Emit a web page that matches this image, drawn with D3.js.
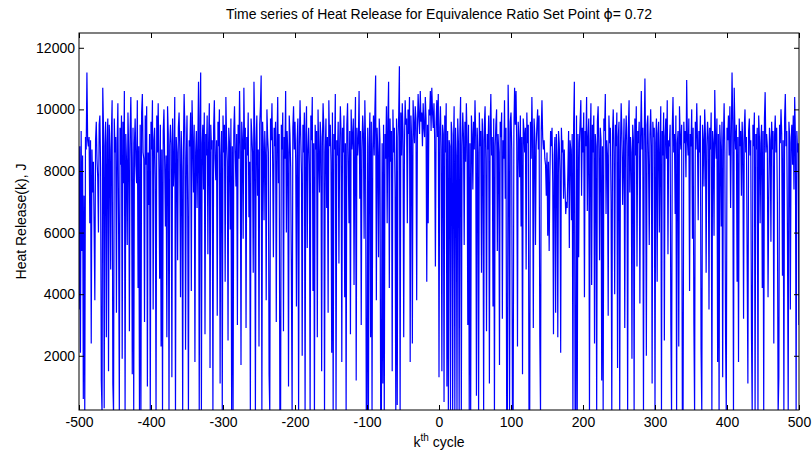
<!DOCTYPE html>
<html>
<head>
<meta charset="utf-8">
<script src="https://cdn.jsdelivr.net/npm/d3@7/dist/d3.min.js"></script>
<style>
  body { margin: 0; background: #fff; }
  text { font-family: "Liberation Sans", Arial, sans-serif; fill: #000; }
</style>
</head>
<body>
<div id="chart"></div>
<script>
// heat release per cycle, k = -500 .. 500 (20 values per row)
var heat = [
3500,8800,2100,9300,5400,8500,600,7200,100,9100,8700,11200,9000,8800,9100,6300,9000,2400,8700,7300,
8300,6100,3800,9000,9600,8400,7800,6000,9500,9800,8100,1200,100,10700,9400,300,8800,9600,2600,8900,
9700,1500,9500,8700,4800,9200,10300,1100,100,9700,8600,9100,3400,8900,10200,6200,100,9400,8200,9800,
1900,9600,7600,10600,100,9200,8300,5600,9900,8700,2800,9300,10400,8400,1400,9400,100,8900,9700,8200,
7600,10300,4200,8800,100,9500,100,9900,10500,8600,8400,3100,9800,8200,10100,1000,8600,6900,9200,100,
9600,8700,10300,3500,9000,9400,7700,100,9800,8600,10200,8100,4500,9500,2300,8700,100,9300,10000,8300,
6200,8500,2600,10100,9200,100,8800,9500,8900,1300,9700,7500,8300,10400,100,9100,8600,5100,9400,9900,
8700,3900,9300,8000,100,8700,10500,9400,2200,8400,9800,6700,100,9000,8800,9900,4100,10300,9100,7300,
9500,1800,8600,9300,6800,8800,10900,100,9700,11200,100,8900,9500,7400,9900,2700,9200,8500,9800,5300,
8900,10200,1600,9500,8700,9000,100,9400,10300,8400,7700,9000,3300,9600,8800,10000,1100,8500,9300,100,
9800,8600,9500,4400,10400,9000,8300,2500,9400,8900,6100,9700,100,8800,100,9300,10100,8600,7500,9200,
3000,9500,8400,10600,8800,1700,9600,9000,5800,10700,8700,9400,2900,9100,8500,9900,6500,8300,100,9700,
9200,8600,4700,10900,9400,100,8900,9800,7200,8700,2300,9500,10100,11100,100,9600,8800,6400,9300,8500,
3800,10000,9100,8600,1400,100,9700,9000,10200,8300,5200,9400,8800,9600,3100,8900,10400,7600,9200,100,
100,9500,8700,9900,2800,9100,8400,10600,6000,9300,8600,1000,9800,9200,8100,4600,100,9400,10100,8700,
9600,8300,3600,9000,9700,100,8800,10300,9100,7900,2000,9500,8600,9900,100,9200,10100,5500,8700,9400,
8200,100,9800,9000,10400,4100,8900,100,9500,8700,9300,2600,10000,8500,7300,9600,9100,1500,8800,10200,
9400,100,8600,9700,6800,9100,3400,10300,8800,9500,8300,2100,9900,100,9200,8700,10500,100,9000,8500,
9600,5000,8800,10100,9200,1800,9400,8600,9800,3900,8900,100,9500,10200,8300,6300,9300,2700,10000,8700,
9100,9700,4300,8800,10400,1200,9400,8500,9000,10600,7100,9300,3000,8700,9800,9200,5800,10300,8900,100,
100,9400,100,8800,9900,2600,9600,100,8700,9800,8500,10000,11100,3800,9400,8600,5200,9700,9000,100,
100,8900,1100,9500,100,9200,8400,10100,6300,9600,10900,4200,9700,8300,9300,1500,10000,8600,9400,7400,
100,9700,400,9100,9800,11400,100,9900,8500,10200,9300,2600,8800,10300,9500,9700,6300,10000,9200,10400,
1800,9800,9000,2400,10300,9500,8900,10100,9700,3800,9300,10500,9800,9200,10600,9600,9900,8800,10200,9400,
9100,10400,9700,4400,9500,6300,10000,9800,10600,9300,10700,9900,9400,10200,9000,4900,9600,10300,9100,10500,
1300,9400,10100,8700,1500,9500,9200,500,9800,8600,10200,1000,9300,100,9000,8800,100,9600,9200,100,
8700,10100,100,9400,8500,100,9700,8900,100,9300,10400,100,8800,9900,9100,5600,9600,8300,10200,9000,
3000,9500,100,8900,100,9800,9200,7400,9600,8700,10300,9100,700,9400,8600,100,9900,8800,9300,4700,
9700,9000,100,9500,10100,8400,2800,9200,8700,9800,1100,9400,10500,8500,9100,3600,9700,100,8800,9500,
10000,5400,9200,8600,1700,9600,9100,9900,3200,9000,8400,10300,7100,9400,100,100,10800,9200,100,9600,
9900,8700,100,100,9300,10700,9500,10600,8800,2300,9600,9000,7800,9800,6200,9100,1400,9700,9300,8600,
9400,4800,9900,8900,9500,100,100,9600,8400,10400,9000,2900,9700,9200,5600,8800,9500,10000,8700,9800,
2600,100,9300,10300,9100,8700,9000,8400,8200,7200,8600,5900,8300,5400,7800,9300,8800,9400,7600,2700,
8500,9100,3400,9200,8400,2600,9300,8900,8000,2100,9400,8600,9000,7100,8700,7500,6600,7000,6800,8000,
9300,5500,9000,8700,6400,9200,100,9500,10900,100,100,9800,100,9200,5200,8900,9600,10300,7200,9400,
8600,9900,3900,9300,8800,10400,6700,9100,9700,100,8900,10200,4300,9500,8600,9800,2400,9200,8800,100,
9600,10100,8700,5100,9400,9000,1200,8800,100,9700,9300,10500,6600,9000,8500,3300,9800,8900,9400,7000,
100,9200,10000,8600,4000,9500,8800,9900,1600,9100,9600,100,8700,10200,9300,6900,8400,9700,2900,9000,
9800,8800,100,9400,10300,7300,9100,8600,1900,9500,9000,100,9700,8500,10100,4900,9300,8900,9600,3700,
9100,10600,8700,9400,100,9000,11000,8600,2000,9500,9800,8300,5600,9200,10000,8800,1100,9600,9100,9400,
100,8900,9700,4400,9200,9600,6000,8700,10100,100,9300,8500,9900,2500,9100,9700,8400,10300,5300,9000,
8800,9500,3000,100,9400,10400,8600,9200,6600,9800,100,8900,9300,2300,10100,9100,8700,9500,100,100,
9600,8900,9300,7800,10950,9000,8500,9700,4100,9200,8800,10000,5800,9400,3100,100,9600,8700,10200,9000,
6400,9300,8600,9800,2200,100,9500,9000,7500,10000,9200,4700,8800,9600,9100,3500,9400,8700,9900,100,
9300,8900,5900,10630,9100,8400,9700,1800,9200,100,9500,8800,6200,9600,1300,9000,10200,8600,2600,100,
9400,9000,9800,8500,10100,6800,9200,11200,9600,100,10700,9300,8700,9500,4400,9100,1800,9700,8800,9300,
7200,9600,8900,3200,9400,10000,8600,9100,5000,1100,9300,9700,8500,9000,2700,100,9500,8800,9900,100,
9200,8700,9400,100,9800,9100,6300,8900,9500,4200,9300,100,9700,10560,8600,9200,8800,3900,7060,9400,
9000,5700,9600,8700,9300,2400,9100,9800,8600,9400,6900,100,1300,9500,8900,10000,9200,4600,9000,100,
9700,10500,8800,9300,5800,100,9600,9100,3500,8900,9500,8200,9800,7400,10400,9100,100,9300,8600,8900,
3000
];
var kFirst = -500;
var cycles = heat.map(function(d, i) { return kFirst + i; });

var xTicks = [-500, -400, -300, -200, -100, 0, 100, 200, 300, 400, 500];
var yTicks = [2000, 4000, 6000, 8000, 10000, 12000];
var xDomain = [-500, 500];
var yDomain = [240, 12480];

var titleText = "Time series of Heat Release for Equivalence Ratio Set Point ";

var svgWidth = 812;
var svgHeight = 455;
var margin = { top: 33, right: 13, bottom: 45, left: 79 };
var width = svgWidth - margin.left - margin.right;
var height = svgHeight - margin.top - margin.bottom;

var svg = d3.select("#chart")
    .append("svg")
    .attr("width", svgWidth)
    .attr("height", svgHeight);

var g = svg.append("g")
    .attr("transform", "translate(" + margin.left + "," + margin.top + ")");

var x = d3.scaleLinear().domain(xDomain).range([0, width]);
var y = d3.scaleLinear().domain(yDomain).range([height, 0]);

// clip so the dips below the axis floor get cut at the box
g.append("clipPath").attr("id", "plotclip")
    .append("rect").attr("width", width).attr("height", height);

var line = d3.line()
    .x(function(d, i) { return x(cycles[i]); })
    .y(function(d) { return y(d); });

g.append("path")
    .datum(heat)
    .attr("clip-path", "url(#plotclip)")
    .attr("fill", "none")
    .attr("stroke", "#0000ff")
    .attr("stroke-width", 1.2)
    .attr("d", line);

// axes, matlab style: ticks inside on all four sides, plain hyphen minus
var fontSize = "14px";
var plain = function(d) { return String(d); };

g.append("g")
    .attr("transform", "translate(0," + height + ")")
    .call(d3.axisBottom(x).tickValues(xTicks).tickSize(-5).tickPadding(7).tickFormat(plain));
g.append("g")
    .call(d3.axisLeft(y).tickValues(yTicks).tickSize(-5).tickPadding(4).tickFormat(plain));
g.append("g")
    .call(d3.axisTop(x).tickValues(xTicks).tickSize(-5).tickFormat(""));
g.append("g")
    .attr("transform", "translate(" + width + ",0)")
    .call(d3.axisRight(y).tickValues(yTicks).tickSize(-5).tickFormat(""));

g.selectAll(".domain").remove();
g.selectAll(".tick line").attr("stroke", "#000");
g.selectAll(".tick text").style("font-size", fontSize).attr("fill", "#000");

g.append("rect")
    .attr("width", width)
    .attr("height", height)
    .attr("fill", "none")
    .attr("stroke", "#000")
    .attr("stroke-width", 1);

// title
var title = svg.append("text")
    .attr("x", margin.left + width / 2)
    .attr("y", 19)
    .attr("text-anchor", "middle")
    .style("font-size", fontSize);
title.append("tspan").text(titleText);
title.append("tspan").style("font-family", "DejaVu Sans").text("\u03d5");
title.append("tspan").text("= 0.72");

// x label with superscript
var xl = svg.append("text")
    .attr("x", margin.left + width / 2)
    .attr("y", 447)
    .attr("text-anchor", "middle")
    .style("font-size", fontSize);
xl.append("tspan").text("k");
xl.append("tspan").attr("dy", -6).style("font-size", "10px").text("th");
xl.append("tspan").attr("dy", 6).text(" cycle");

// y label
svg.append("text")
    .attr("transform", "translate(26," + (margin.top + height / 2) + ") rotate(-90)")
    .attr("text-anchor", "middle")
    .style("font-size", fontSize)
    .text("Heat Release(k), J");
</script>
</body>
</html>
